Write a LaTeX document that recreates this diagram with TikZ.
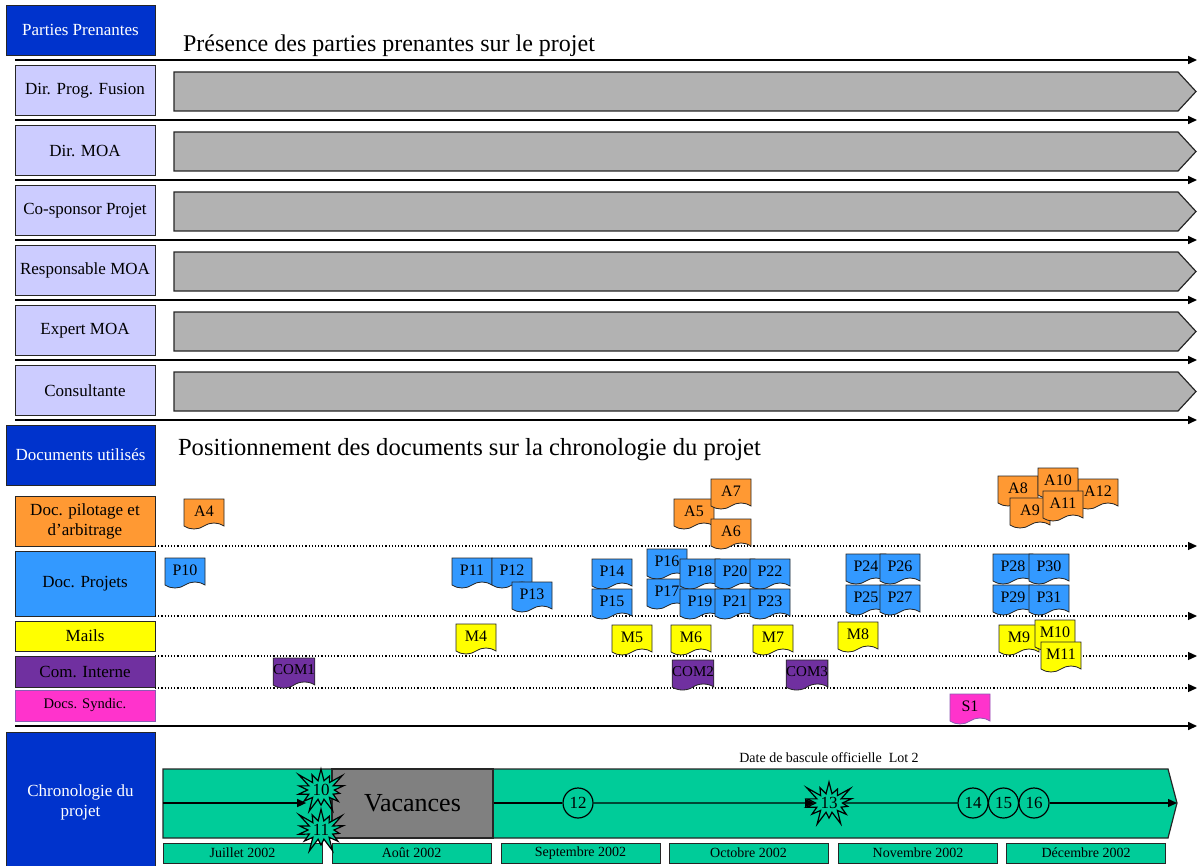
\documentclass[tikz,border=0pt]{standalone}
\usepackage{fontspec}
\setmainfont{Liberation Serif}
\usetikzlibrary{arrows.meta,shapes.symbols,positioning}

\definecolor{ppblue}{HTML}{0033CC}
\definecolor{rolefill}{HTML}{CCCCFF}
\definecolor{chevgray}{HTML}{B2B2B2}
\definecolor{docorange}{HTML}{FF9933}
\definecolor{docblue}{HTML}{3399FF}
\definecolor{docyellow}{HTML}{FFFF00}
\definecolor{docpurple}{HTML}{7030A0}
\definecolor{docpink}{HTML}{FF33CC}
\definecolor{chrongreen}{HTML}{00CC99}
\definecolor{vacgray}{HTML}{808080}

\begin{document}
\begin{tikzpicture}[x=0.5pt,y=-0.5pt,
  font=\fontsize{8.5}{10}\selectfont,
  hdrbox/.style={draw=black!85, fill=ppblue, text=white, minimum width=74.5pt, inner sep=0pt, align=center},
  rolebox/.style={draw=black!85, fill=rolefill, minimum width=70pt, minimum height=25pt, inner sep=0pt},
  catbox/.style={draw=black!85, minimum width=70pt, inner sep=0pt, align=center},
  docnode/.style={tape, tape bend top=none, tape bend height=3pt, draw=black!85, minimum width=20pt, minimum height=15pt, inner sep=0pt, font=\fontsize{8}{9}\selectfont},
  sepline/.style={line width=0.8pt, -{Triangle[length=4.5pt,width=4pt]}},
  docline/.style={densely dotted, line width=0.6pt, -{Triangle[length=4.5pt,width=4pt]}},
  monthbox/.style={draw=black!85, fill=chrongreen, minimum width=79.5pt, minimum height=10pt, inner sep=0pt, font=\fontsize{7}{8}\selectfont},
  burst/.style={starburst, starburst points=14, starburst point height=8pt, draw=black, fill=chrongreen, inner sep=0.5pt, line width=0.6pt},
  stepcircle/.style={circle, draw=black, fill=chrongreen, minimum size=15pt, inner sep=0pt, line width=0.6pt},
  flow/.style={line width=0.7pt},
  flowarrow/.style={line width=0.7pt, -{Triangle[length=4.5pt,width=4pt]}}
]
\useasboundingbox (0,0) rectangle (1198,866);

\node[hdrbox, minimum height=25pt] (parties) at (80.5,30) {Parties Prenantes};
\node[anchor=base west, font=\fontsize{12}{14}\selectfont] (titlepp) at (176,52) {Présence des parties prenantes sur le projet};

\foreach \k in {1,...,7}
  \draw[sepline] (15,{60*\k}) -- (1197,{60*\k});

\foreach \lab [count=\i from 0] in {Dir. Prog. Fusion, Dir. MOA, Co-sponsor Projet, Responsable MOA, Expert MOA, Consultante} {
  \node[rolebox] (role\i) at (85,{90.5+60*\i}) {\lab};
  \draw[draw=black!85, fill=chevgray, line width=0.6pt] (174,{72+60*\i}) -- (1178,{72+60*\i}) -- (1196,{91.5+60*\i}) -- (1178,{111+60*\i}) -- (174,{111+60*\i}) -- cycle;
}

\node[hdrbox, minimum height=30pt] (docs) at (80.5,455) {Documents utilisés};
\node[anchor=base west, font=\fontsize{12.3}{14}\selectfont] (titledocs) at (171,455) {Positionnement des documents sur la chronologie du projet};

\node[catbox, fill=docorange, minimum height=25pt] (pilot) at (85,521) {Doc. pilotage et\\d’arbitrage};
\node[catbox, fill=docblue, minimum height=32.5pt] (projets) at (85,583.5) {Doc. Projets};
\node[catbox, fill=docyellow, minimum height=15pt] (mails) at (85,636) {Mails};
\node[catbox, fill=docpurple, minimum height=15.5pt] (cominterne) at (85,671.5) {Com. Interne};
\node[catbox, draw=docpurple!80, fill=docpink, minimum height=15.5pt, font=\fontsize{7.3}{8}\selectfont] (syndic) at (85,705.5) {Docs. Syndic.};

\foreach \yy in {546,616,656,688}
  \draw[docline] (155,\yy) -- (1197,\yy);
\draw[sepline] (15,726) -- (1197,726);

\foreach \nm/\x/\y in {A4/204/511, A5/694/511, A7/731/491, A6/731/531, A8/1018/488, A12/1098/491, A10/1058/480, A9/1030/510, A11/1063/503}
  \node[docnode, fill=docorange] (\nm) at (\x,\y) {\nm};

\foreach \nm/\x/\y in {P10/185/570, P11/472/570, P12/512/570, P13/532/594, P14/612/571, P15/612/601, P16/667/561, P17/667/591, P18/700/571, P19/700/601, P20/735/571, P21/735/601, P22/770/571, P23/770/601, P24/866/566, P25/866/597, P26/900/566, P27/900/597, P28/1013/566, P29/1013/597, P30/1049/566, P31/1049/597}
  \node[docnode, fill=docblue] (\nm) at (\x,\y) {\nm};

\foreach \nm/\x/\y in {M4/476/636, M5/632/637, M6/691/637, M7/773/637, M8/858/634, M9/1019/637, M10/1055/632, M11/1061/654}
  \node[docnode, fill=docyellow] (\nm) at (\x,\y) {\nm};

\foreach \nm/\x/\y in {COM1/294/670, COM2/693/672, COM3/807/672}
  \node[docnode, fill=docpurple, font=\fontsize{7.5}{8}\selectfont] (\nm) at (\x,\y) {\nm};

\node[docnode, fill=docpink, draw=docpurple!80] (S1) at (970,706) {S1};

\node[hdrbox, minimum height=70pt] (chrono) at (80.5,802) {Chronologie du\\projet};

\draw[draw=black!85, fill=chrongreen, line width=0.6pt] (163,769) -- (1168,769) -- (1177,803) -- (1168,838) -- (163,838) -- cycle;
\node[draw=black!85, fill=vacgray, minimum width=80.5pt, minimum height=34.5pt, inner sep=0pt, line width=0.6pt, font=\fontsize{13}{15}\selectfont] (vac) at (412.5,803.5) {Vacances};
\node[font=\fontsize{7}{8}\selectfont] (bascule) at (829,758) {Date de bascule officielle\ \ Lot 2};

\foreach \mo/\x in {Juillet 2002/242.5, Août 2002/411.5, Septembre 2002/580.5, Octobre 2002/748.5, Novembre 2002/918, Décembre 2002/1086}
  \node[monthbox] at (\x,853) {\mo};

\coordinate (c0) at (163,803);
\coordinate (tip) at (1177,803);

\node[burst] (n10) at (321,790) {10};
\node[burst] (n11) at (321,830) {11};
\node[stepcircle] (n12) at (578,803) {12};
\node[burst] (n13) at (829,803) {13};
\node[stepcircle] (n14) at (973,803) {14};
\node[stepcircle] (n15) at (1003.5,803) {15};
\node[stepcircle] (n16) at (1034,803) {16};

\draw[flowarrow] (c0) -- (c0 -| n10.west);
\draw[flow] (vac.east |- c0) -- (n12);
\draw[flowarrow] (n12) -- (n13);
\draw[flow] (n13) -- (n14);
\draw[flowarrow] (n16) -- (tip);

\end{tikzpicture}
\end{document}
